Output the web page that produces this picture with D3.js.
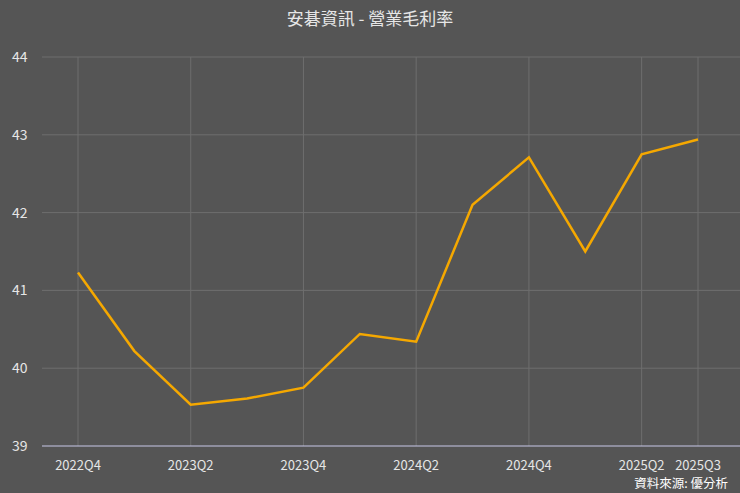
<!DOCTYPE html><html><head><meta charset="utf-8">
<script src="https://cdn.jsdelivr.net/npm/d3@7"></script>
<style>body{margin:0;background:#555555}</style></head><body>
<svg id="c" width="740" height="493"></svg>
<script>
const quarters=["2022Q4","2023Q1","2023Q2","2023Q3","2023Q4","2024Q1","2024Q2","2024Q3","2024Q4","2025Q1","2025Q2","2025Q3"];
const values=[41.23,40.22,39.53,39.61,39.75,40.44,40.34,42.1,42.71,41.5,42.75,42.94];
const tickLabels=["2022Q4","2023Q2","2023Q4","2024Q2","2024Q4","2025Q2","2025Q3"];
const yTicks=[39,40,41,42,43,44];
const svg=d3.select("#c");
svg.append("rect").attr("width",740).attr("height",493).attr("fill","#555555");
const x=d3.scalePoint().domain(quarters).range([78,698]);
const y=d3.scaleLinear().domain([39,44]).range([446,57]);
const f="'Noto Sans CJK TC','Noto Sans',sans-serif";
svg.append("g").selectAll("line").data(yTicks.slice(1)).join("line")
 .attr("x1",42).attr("x2",740).attr("y1",d=>y(d)).attr("y2",d=>y(d)).attr("stroke","#6e6e6e");
svg.append("g").selectAll("line").data(tickLabels).join("line")
 .attr("x1",d=>x(d)).attr("x2",d=>x(d)).attr("y1",57).attr("y2",446).attr("stroke","#6e6e6e");
svg.append("line").attr("x1",42).attr("x2",740).attr("y1",446).attr("y2",446).attr("stroke","#c8c8e8");
svg.append("g").selectAll("text").data(yTicks).join("text")
 .attr("x",12).attr("y",d=>y(d)+5).text(d=>d).attr("fill","#e6e6e6").attr("font-size",14).attr("font-family",f);
svg.append("g").selectAll("text").data(tickLabels).join("text")
 .attr("x",d=>x(d)).attr("y",470).attr("text-anchor","middle").text(d=>d).attr("fill","#e6e6e6").attr("font-size",13).attr("font-family",f);
svg.append("path").datum(values).attr("fill","none").attr("stroke","#f5a800").attr("stroke-width",2.5)
 .attr("d",d3.line().x((d,i)=>x(quarters[i])).y(d=>y(d)));
svg.append("text").attr("x",370).attr("y",25).attr("text-anchor","middle").text("安碁資訊 - 營業毛利率")
 .attr("fill","#e6e6e6").attr("font-size",17).attr("font-family",f);
svg.append("text").attr("x",728).attr("y",488).attr("text-anchor","end").text("資料來源: 優分析")
 .attr("fill","#ffffff").attr("font-size",12.5).attr("font-family",f);
</script></body></html>
